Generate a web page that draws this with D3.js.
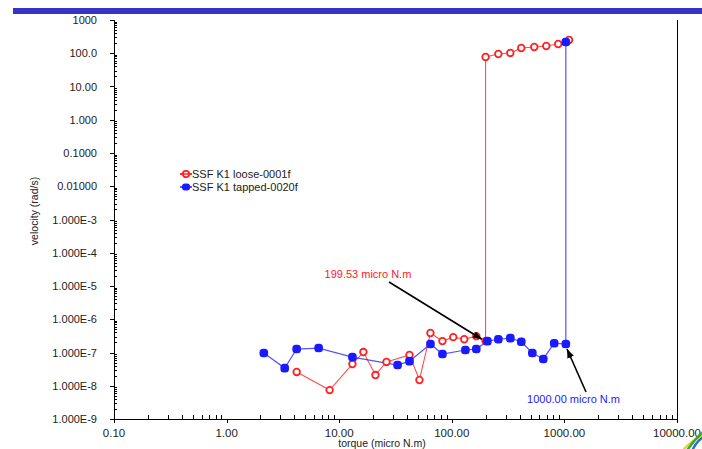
<!DOCTYPE html>
<html>
<head>
<meta charset="utf-8">
<script src="https://cdn.jsdelivr.net/npm/d3@7"></script>
<style>
  body { margin: 0; background: #fff; }
  svg { display: block; font-family: "Liberation Sans", Arial, sans-serif; }
</style>
</head>
<body>
<div id="chart"></div>
<script>
// series
const looseTorque = [4.19, 8.22, 13.1, 16.4, 21.0, 26.3, 42.1, 51.6, 64.6, 82.6, 103, 129, 165, 199.5,
                     199.5, 259, 331, 414, 540, 690, 881, 1100];
const looseVelocity = [2.6e-8, 7.4e-9, 4.5e-8, 1.03e-7, 2.1e-8, 5.2e-8, 8.4e-8, 1.49e-8, 3.86e-7, 2.2e-7, 2.9e-7, 2.5e-7, 3.1e-7, 2.2e-7,
                       77, 95, 102, 144, 154, 165, 190, 250];
const tappedTorque = [2.14, 3.28, 4.19, 6.57, 13.1, 33.0, 42.1, 64.6, 82.6, 132, 165, 207, 259, 331, 414, 519, 649, 812, 1030, 1030];
const tappedVelocity = [9.7e-8, 3.4e-8, 1.27e-7, 1.36e-7, 7.3e-8, 4.2e-8, 5.5e-8, 1.8e-7, 9.0e-8, 1.19e-7, 1.27e-7, 2.2e-7, 2.5e-7, 2.7e-7, 2.1e-7, 9.7e-8, 6.4e-8, 1.9e-7, 1.8e-7, 218];

const seriesNames = ["SSF K1 loose-0001f", "SSF K1 tapped-0020f"];

const xTickValues = [0.1, 1, 10, 100, 1000, 10000];
const xTickLabels = ["0.10", "1.00", "10.00", "100.00", "1000.00", "10000.00"];
const yTickValues = [1e3, 1e2, 1e1, 1, 1e-1, 1e-2, 1e-3, 1e-4, 1e-5, 1e-6, 1e-7, 1e-8, 1e-9];
const yTickLabels = ["1000", "100.0", "10.00", "1.000", "0.1000", "0.01000", "1.000E-3", "1.000E-4",
                     "1.000E-5", "1.000E-6", "1.000E-7", "1.000E-8", "1.000E-9"];

// annotations: label, label position, arrow tail, arrow tip (data coords)
const noteText = ["199.53 micro N.m", "1000.00 micro N.m"];
const noteLabelAt = [[18.0, 1.74e-5], [1205, 3.0e-9]];
const noteTail = [[27.7, 1.32e-5], [1556, 6.5e-9]];
const noteTip = [[185, 2.5e-7], [1055, 1.27e-7]];

const W = 702, H = 449;
const plotLeft = 114, plotRight = 677, plotTop = 20, plotBottom = 419;
const red = "#ff2020", blue = "#1a1aff";

const svg = d3.select("#chart").append("svg")
    .attr("width", W)
    .attr("height", H);

const defs = svg.append("defs");
defs.append("marker")
    .attr("id", "arrowhead")
    .attr("markerWidth", 9)
    .attr("markerHeight", 7)
    .attr("refX", 9)
    .attr("refY", 3.5)
    .attr("orient", "auto")
    .attr("markerUnits", "userSpaceOnUse")
    .append("polygon")
    .attr("points", "0 0, 9 3.5, 0 7")
    .attr("fill", "#000");

// blue header bar
svg.append("rect")
    .attr("x", 13).attr("y", 8)
    .attr("width", W - 13).attr("height", 6)
    .attr("fill", "#3434c8");

const x = d3.scaleLog().domain([0.1, 10000]).range([plotLeft, plotRight]);
const y = d3.scaleLog().domain([1e-9, 1000]).range([plotBottom, plotTop]);

// minor ticks (inside), major ticks (outside)
const xMinor = [];
for (let d = 0.1; d < 10000; d *= 10) {
    for (let k = 2; k <= 9; k++) xMinor.push(d * k);
}
const yMinor = [];
for (let d = 1e-9; d < 1000; d *= 10) {
    for (let k = 2; k <= 9; k++) yMinor.push(d * k);
}

const axisG = svg.append("g").attr("stroke", "#000").attr("stroke-width", 1);

axisG.selectAll(".xminor").data(xMinor).enter().append("line")
    .attr("x1", d => Math.round(x(d)) + 0.5).attr("x2", d => Math.round(x(d)) + 0.5)
    .attr("y1", plotBottom - 4).attr("y2", plotBottom);
axisG.selectAll(".xmajor").data(xTickValues).enter().append("line")
    .attr("x1", d => Math.round(x(d)) + 0.5).attr("x2", d => Math.round(x(d)) + 0.5)
    .attr("y1", plotBottom).attr("y2", plotBottom + 4);

axisG.selectAll(".yminor").data(yMinor).enter().append("line")
    .attr("x1", plotLeft).attr("x2", plotLeft + 3)
    .attr("y1", d => Math.round(y(d)) + 0.5).attr("y2", d => Math.round(y(d)) + 0.5);
axisG.selectAll(".ymajor").data(yTickValues).enter().append("line")
    .attr("x1", plotLeft - 4).attr("x2", plotLeft)
    .attr("y1", d => Math.round(y(d)) + 0.5).attr("y2", d => Math.round(y(d)) + 0.5);

// axis frame: left, bottom, right
axisG.append("line").attr("x1", plotLeft + 0.5).attr("x2", plotLeft + 0.5).attr("y1", plotTop).attr("y2", plotBottom + 0.5);
axisG.append("line").attr("x1", plotLeft).attr("x2", plotRight + 0.5).attr("y1", plotBottom + 0.5).attr("y2", plotBottom + 0.5);
axisG.append("line").attr("x1", plotRight + 0.5).attr("x2", plotRight + 0.5).attr("y1", plotTop).attr("y2", plotBottom + 0.5);

svg.selectAll(".xlab").data(xTickValues).enter().append("text")
    .attr("x", d => x(d))
    .attr("y", plotBottom + 18)
    .attr("text-anchor", "middle")
    .attr("font-size", 11.5)
    .attr("fill", "#222")
    .text((d, i) => xTickLabels[i]);

svg.selectAll(".ylab").data(yTickValues).enter().append("text")
    .attr("x", plotLeft - 17)
    .attr("y", d => y(d) + 4)
    .attr("text-anchor", "end")
    .attr("font-size", 11)
    .attr("fill", "#222")
    .text((d, i) => yTickLabels[i]);

svg.append("text")
    .attr("x", 382).attr("y", plotBottom + 28)
    .attr("text-anchor", "middle")
    .attr("font-size", 10.5)
    .attr("fill", "#222")
    .text("torque (micro N.m)");

svg.append("text")
    .attr("transform", "translate(38,211) rotate(-90)")
    .attr("text-anchor", "middle")
    .attr("font-size", 10.5)
    .attr("fill", "#222")
    .text("velocity (rad/s)");

// series
const line = d3.line().x(d => x(d[0])).y(d => y(d[1]));
const loose = d3.zip(looseTorque, looseVelocity);
const tapped = d3.zip(tappedTorque, tappedVelocity);

svg.append("path").datum(loose)
    .attr("d", line)
    .attr("fill", "none")
    .attr("stroke", red)
    .attr("stroke-opacity", 0.8)
    .attr("stroke-width", 1.1);

svg.append("path").datum(tapped)
    .attr("d", line)
    .attr("fill", "none")
    .attr("stroke", blue)
    .attr("stroke-opacity", 0.75)
    .attr("stroke-width", 1.2);

svg.selectAll(".redpt").data(loose).enter().append("circle")
    .attr("cx", d => x(d[0])).attr("cy", d => y(d[1]))
    .attr("r", 3.3)
    .attr("fill", "#fff")
    .attr("stroke", red)
    .attr("stroke-width", 1.8);

svg.selectAll(".bluept").data(tapped).enter().append("rect")
    .attr("x", d => x(d[0]) - 4.3).attr("y", d => y(d[1]) - 4.3)
    .attr("width", 8.6).attr("height", 8.6)
    .attr("rx", 3.5)
    .attr("fill", blue);

// legend
const legend = svg.append("g").attr("transform", "translate(180,174)");
[[red, false], [blue, true]].forEach((s, i) => {
    const g = legend.append("g").attr("transform", `translate(0,${i * 13})`);
    g.append("line").attr("x1", 0).attr("x2", 12).attr("y1", 0).attr("y2", 0)
        .attr("stroke", s[0]).attr("stroke-width", 1.5);
    if (s[1]) {
        g.append("rect").attr("x", 2).attr("y", -3.5).attr("width", 8).attr("height", 7)
            .attr("rx", 3).attr("fill", s[0]);
    } else {
        g.append("circle").attr("cx", 6).attr("cy", 0).attr("r", 3.2)
            .attr("fill", "#fff").attr("stroke", s[0]).attr("stroke-width", 1.8);
        g.append("line").attr("x1", 0).attr("x2", 12).attr("y1", 0).attr("y2", 0)
            .attr("stroke", s[0]).attr("stroke-width", 1.5);
    }
    g.append("text").attr("x", 12).attr("y", 4)
        .attr("font-size", 11).attr("fill", "#222")
        .text(seriesNames[i]);
});

// annotations
const noteColors = [red, blue];
noteText.forEach((t, i) => {
    svg.append("line")
        .attr("x1", x(noteTail[i][0])).attr("y1", y(noteTail[i][1]))
        .attr("x2", x(noteTip[i][0])).attr("y2", y(noteTip[i][1]))
        .attr("stroke", "#000")
        .attr("stroke-width", 1.6)
        .attr("marker-end", "url(#arrowhead)");
    svg.append("text")
        .attr("x", x(noteLabelAt[i][0])).attr("y", y(noteLabelAt[i][1]))
        .attr("text-anchor", "middle")
        .attr("font-size", 11)
        .attr("fill", noteColors[i])
        .text(t);
});

// corner logo swoosh
const logo = svg.append("g").attr("fill", "none").attr("stroke-linecap", "round");
logo.append("path").attr("d", "M684,449 Q692,440 702,436").attr("stroke", "#e8d020").attr("stroke-width", 2);
logo.append("path").attr("d", "M688,449 Q695,439 702,433").attr("stroke", "#3aa838").attr("stroke-width", 2.5);
logo.append("path").attr("d", "M693,449 Q697,441 702,438").attr("stroke", "#2a6ed8").attr("stroke-width", 2.5);
</script>
</body>
</html>
